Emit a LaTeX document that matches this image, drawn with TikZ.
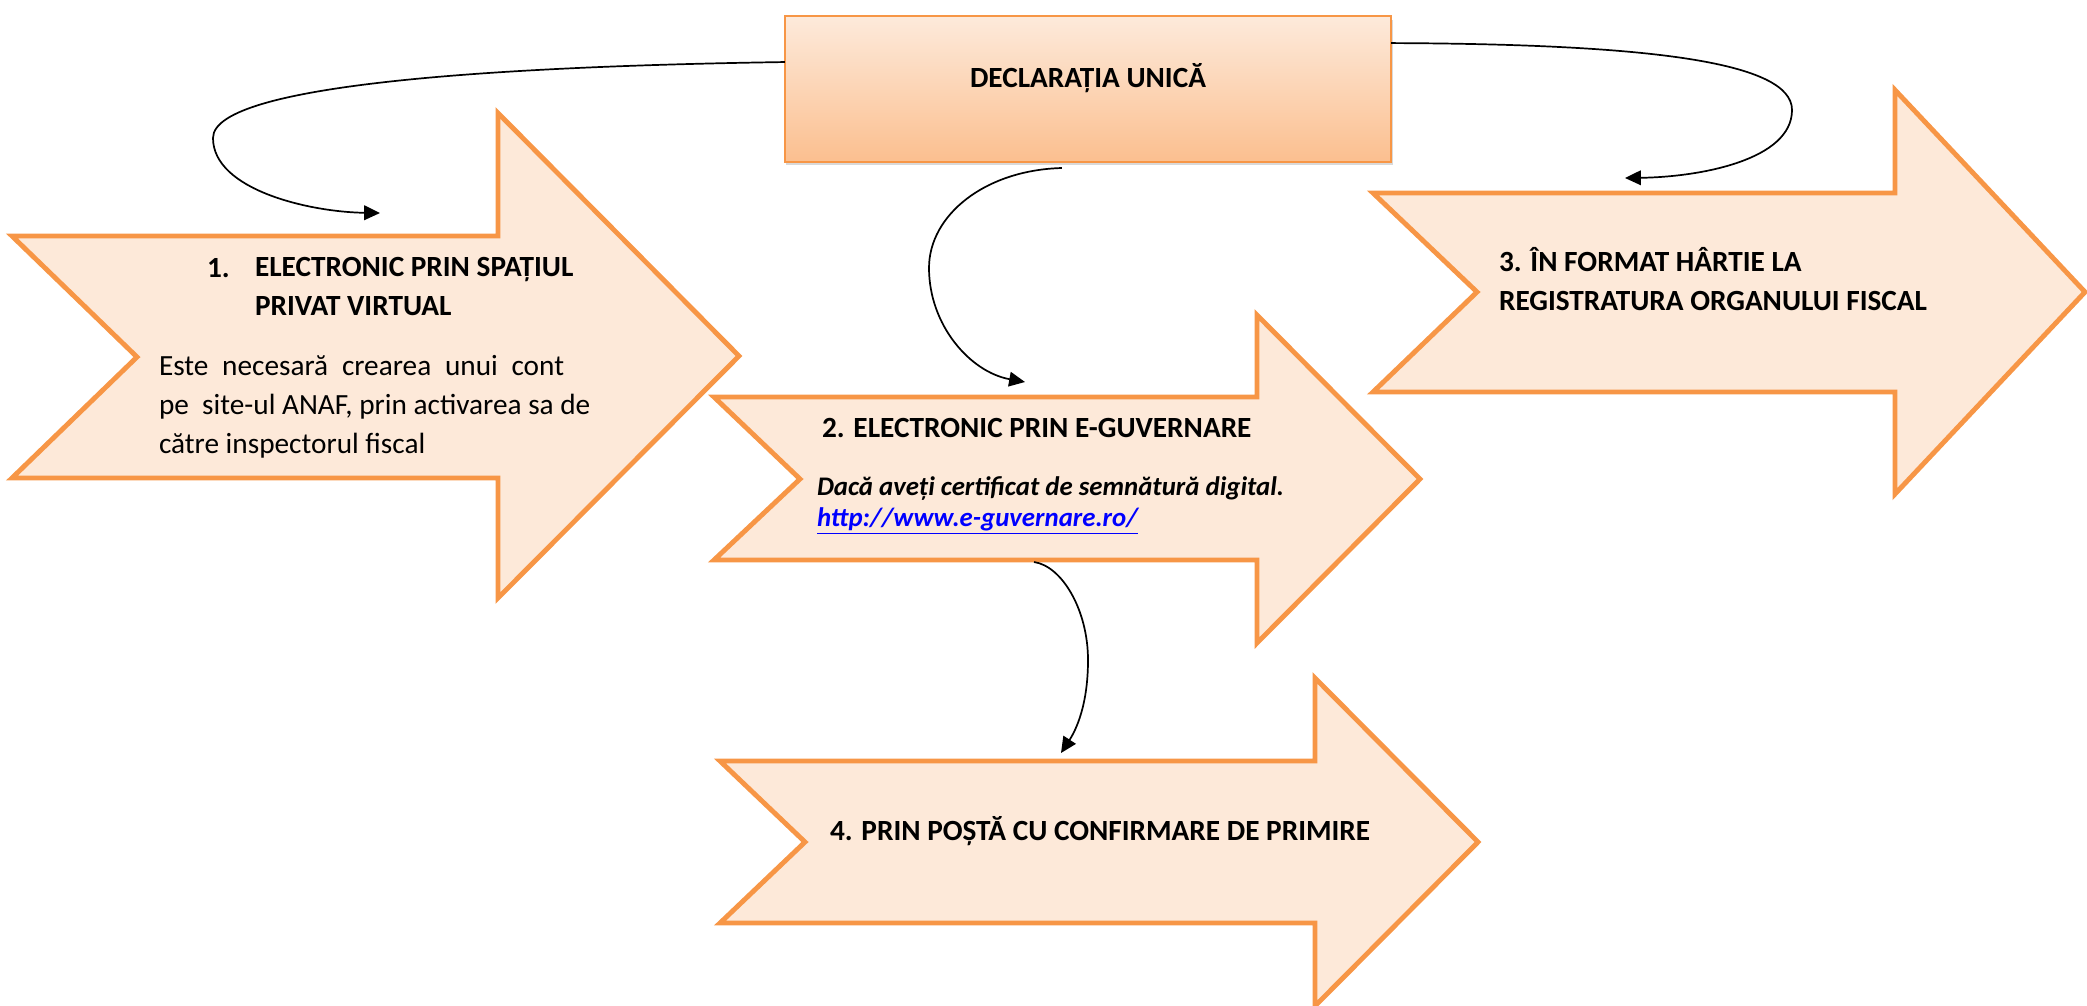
\documentclass[tikz,border=0pt]{standalone}
\usepackage{fontspec}
\setmainfont{Carlito}
\usetikzlibrary{arrows.meta,calc,shadows}
\definecolor{accent}{HTML}{F79646}
\definecolor{peach}{HTML}{FDE9D9}
\definecolor{boxtop}{HTML}{FDEADB}
\definecolor{boxbot}{HTML}{FBBF8F}
\definecolor{linkblue}{HTML}{0000FF}

\begin{document}
\begin{tikzpicture}[x=0.0144cm, y=-0.0144cm,
    every node/.append style={inner sep=0pt, outer sep=0pt},
    link/.style={-{Triangle[length=6.5pt,width=6pt]}, line width=0.7pt}]
  \tikzstyle{ribbon} = [draw=accent, fill=peach, line width=2pt, line join=miter]
  \tikzstyle{caption} = [font=\fontsize{12}{15.6}\selectfont\bfseries, anchor=base west, align=left]
  \tikzstyle{plain} = [font=\fontsize{12}{15.8}\selectfont, anchor=base west, align=left]
  \useasboundingbox (0,0) rectangle (2087,1005);

  % the four ways
  \draw[ribbon] (12,236) -- (498,236) -- (498,113) -- (739,356) -- (498,598)
    -- (498,478) -- (12,478) -- (137,357) -- cycle;
  \draw[ribbon] (714,397) -- (1257,397) -- (1257,315) -- (1420,479) -- (1257,643)
    -- (1257,560) -- (714,560) -- (800,479) -- cycle;
  \draw[ribbon] (1373,193) -- (1895,193) -- (1895,90) -- (2085,292) -- (1895,494)
    -- (1895,392) -- (1373,392) -- (1477,292) -- cycle;
  \draw[ribbon] (720,761) -- (1315,761) -- (1315,678) -- (1478,842) -- (1315,1006)
    -- (1315,923) -- (720,923) -- (805,842) -- cycle;

  % the form
  \node (decl) [draw=accent, line width=0.6pt, top color=boxtop, bottom color=boxbot,
    minimum width=8.73cm, minimum height=2.1cm,
    drop shadow={opacity=0.3, shadow xshift=0.6pt, shadow yshift=-1.4pt}] at (1088,89) {};
  \node (decltext) [caption, anchor=base] at (1088,87) {DECLARAȚIA UNICĂ};

  % texts (anchored on the baseline of their last line)
  \node (num1) [caption] at (207,277) {1.};
  \node (way1) [caption] at (255,315) {ELECTRONIC PRIN SPAȚIUL\\PRIVAT VIRTUAL};
  \node (note1) [plain] at (159,453) {\makebox[166pt][s]{Este necesară crearea unui cont}\\
    pe\ \ site-ul ANAF, prin activarea sa de\\către inspectorul fiscal};
  \node (way2) [caption] at (822,437) {2. ELECTRONIC PRIN E-GUVERNARE};
  \node (note2) [caption, font=\fontsize{11}{12.6}\selectfont\bfseries\itshape] at (817,526)
    {Dacă aveți certificat de semnătură digital.\\
     {\color{linkblue}\underline{http://www.e-guvernare.ro/}}};
  \node (way3) [caption] at (1499,310) {3. ÎN FORMAT HÂRTIE LA\\REGISTRATURA ORGANULUI FISCAL};
  \node (way4) [caption] at (830,840) {4. PRIN POȘTĂ CU CONFIRMARE DE PRIMIRE};

  % connector ends
  \coordinate (to1) at (380,213);
  \coordinate (to2) at (1025,382);
  \coordinate (to3) at (1625,178);
  \coordinate (foot2) at (1034,562);
  \coordinate (to4) at (1061,753);

  \draw[link] ($(decl.north west)!0.315!(decl.south west)$) .. controls (520,66) and (213,82)
    .. (213,138) .. controls (213,190) and (310,212) .. (to1);
  \draw[link] ($(decl.north east)!0.185!(decl.south east)$) .. controls (1650,44) and (1792,62)
    .. (1792,110) .. controls (1792,160) and (1700,177) .. (to3);
  \draw[link] ([yshift=-2.5pt]$(decl.south west)!0.457!(decl.south east)$) .. controls (985,170) and (929,215)
    .. (929,268) .. controls (929,325) and (970,372) .. (to2);
  \draw[link] (foot2) .. controls (1062,566) and (1088,610)
    .. (1088,660) .. controls (1088,705) and (1076,730) .. (to4);
\end{tikzpicture}
\end{document}
